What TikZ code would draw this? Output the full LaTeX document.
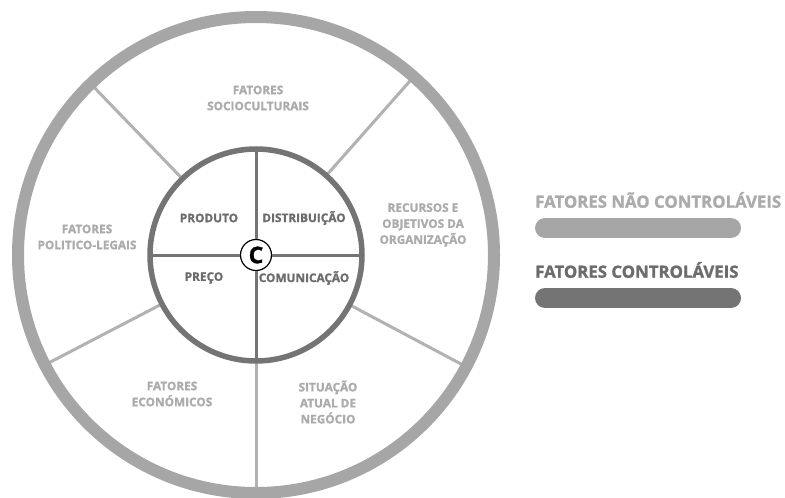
\documentclass[tikz,border=0pt]{standalone}
\usepackage{fontspec}
\setmainfont{Open Sans}[BoldFont={Open Sans Bold}, BoldFeatures={FakeBold=1.3}]
\usetikzlibrary{calc}
\definecolor{lightring}{HTML}{A6A6A6}
\definecolor{lightspoke}{HTML}{B2B2B2}
\definecolor{lighttext}{HTML}{ABABAB}
\definecolor{darkring}{HTML}{747474}
\definecolor{darktext}{HTML}{6C6C6C}
\begin{document}
\begin{tikzpicture}[x=1pt,y=-1pt,
  outerlbl/.style={font=\bfseries\fontsize{11.8}{16}\selectfont, text=lighttext, align=center, inner sep=0pt},
  innerlbl/.style={font=\bfseries\fontsize{11.8}{16}\selectfont, text=darktext, align=center, inner sep=0pt},
  legendlbl/.style={font=\bfseries\fontsize{16.8}{18}\selectfont, anchor=west, inner sep=0pt},
  outerspoke/.style={draw=lightspoke, line width=3pt},
  innerspoke/.style={draw=darkring, line width=3pt},
  legendbar/.style={line width=20pt, line cap=round}]
\useasboundingbox (0,0) rectangle (785,498);
\fill[white] (0,0) rectangle (785,498);

% centre of both rings
\coordinate (O) at (256,255);

% spokes between the inner and the outer ring
\foreach \a [count=\i] in {-134,-48.5,28,152.5,90}{
  \coordinate (in\i) at ($(O)+(\a:106)$);
  \coordinate (out\i) at ($(O)+(\a:236)$);
  \draw[outerspoke] (in\i) -- (out\i);
}

% outer ring: factors that cannot be controlled
\draw[lightring, line width=12pt] (O) circle[radius=238];

% inner ring and its four quadrants
\node[circle, draw=black, line width=1.2pt, fill=white, minimum size=31pt, inner sep=0pt,
      font=\bfseries\fontsize{23}{23}\selectfont, text=black] (C) at (O) {C};
\coordinate (qN) at ($(O)+(0,-106)$);
\coordinate (qS) at ($(O)+(0,106)$);
\coordinate (qW) at ($(O)+(-106,0)$);
\coordinate (qE) at ($(O)+(106,0)$);
\draw[innerspoke] (qN) -- (C.north);
\draw[innerspoke] (C.south) -- (qS);
\draw[innerspoke] (qW) -- (C.west);
\draw[innerspoke] (C.east) -- (qE);
\draw[darkring, line width=5.5pt] (O) circle[radius=106];

% labels of the outer sectors
\node[outerlbl] (socio) at (258,98) {FATORES\\SOCIOCULTURAIS};
\node[outerlbl] (polit) at (87,237) {FATORES\\POLITICO-LEGAIS};
\node[outerlbl] (recur) at (423,225) {RECURSOS E\\OBJETIVOS DA\\ORGANIZAÇÃO};
\node[outerlbl] (econ) at (172,394) {FATORES\\ECONÓMICOS};
\node[outerlbl] (situ) at (328,402) {SITUAÇÃO\\ATUAL DE\\NEGÓCIO};

% labels of the marketing mix
\node[innerlbl] (prod) at (209,218) {PRODUTO};
\node[innerlbl] (dist) at (304,218) {DISTRIBUIÇÃO};
\node[innerlbl] (prec) at (204,278) {PREÇO};
\node[innerlbl] (comu) at (304,278) {COMUNICAÇÃO};

% legend
\node[legendlbl, text=lighttext] (nc) at (535,200) {FATORES NÃO CONTROLÁVEIS};
\coordinate (nc1) at (545,228);
\coordinate (nc2) at (731,228);
\draw[legendbar, lightring] (nc1) -- (nc2);
\node[legendlbl, text=darktext] (ct) at (535,270) {FATORES CONTROLÁVEIS};
\coordinate (ct1) at (545,298);
\coordinate (ct2) at (731,298);
\draw[legendbar, darkring] (ct1) -- (ct2);
\end{tikzpicture}
\end{document}
